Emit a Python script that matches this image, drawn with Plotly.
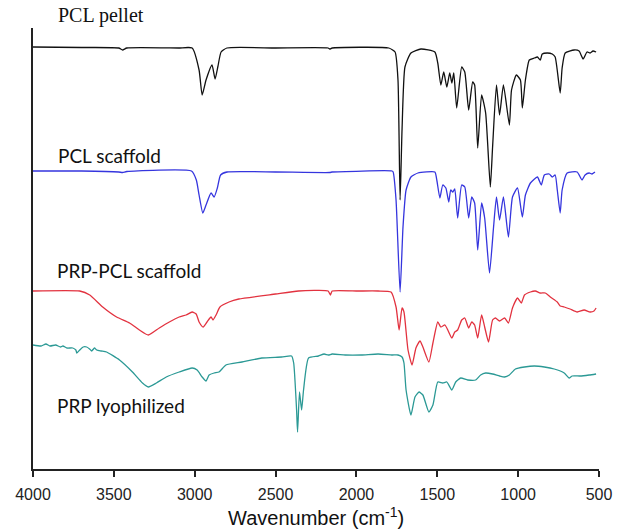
import plotly.graph_objects as go

# Wavenumber (cm-1) and offset signal (arbitrary units, larger = lower on the chart)
pcl_pellet_wn = [4000, 3700, 3470, 3446, 3420, 3100, 3016, 2973, 2954, 2930, 2893, 2874, 2856, 2837, 2801,
                 2500, 2175, 2165, 2150, 1800, 1761, 1743, 1730, 1718, 1700, 1663, 1601, 1515, 1497, 1478,
                 1460, 1441, 1423, 1410, 1398, 1380, 1349, 1330, 1306, 1281, 1269, 1250, 1226, 1201, 1172,
                 1158, 1134, 1115, 1091, 1054, 1041, 1011, 986, 974, 955, 931, 900, 881, 863, 851, 820, 789,
                 771, 740, 728, 709, 654, 623, 598, 574, 555, 537, 518]
pcl_pellet_sig = [47, 47.5, 48, 50, 48, 48, 48, 70, 95, 80, 65, 79, 66, 52, 48,
                  48, 48, 49, 48, 48, 52, 80, 200, 130, 67, 53, 49, 52, 63, 85,
                  72, 87, 73, 83, 73, 108, 67, 72, 110, 82, 85, 148, 95, 113, 187,
                  147, 85, 115, 85, 125, 90, 75, 80, 108, 80, 60, 58, 57, 60, 54, 53, 54,
                  57, 93, 68, 53, 50, 51, 59, 52, 53, 51, 52]

pcl_scaffold_wn = [4000, 3700, 3470, 3446, 3420, 3020, 2990, 2973, 2950, 2930, 2899, 2880, 2860, 2840, 2800,
                   2500, 2165, 2150, 1780, 1773, 1755, 1730, 1712, 1693, 1663, 1620, 1515, 1503, 1484, 1466,
                   1447, 1429, 1417, 1404, 1392, 1374, 1349, 1330, 1306, 1287, 1269, 1250, 1226, 1207, 1177,
                   1152, 1134, 1115, 1091, 1060, 1035, 1004, 974, 955, 924, 881, 857, 838, 808, 789, 771, 758,
                   740, 728, 697, 635, 605, 586, 561, 543, 525]
pcl_scaffold_sig = [171, 171, 172, 172.5, 171.5, 171, 180, 195, 213, 205, 193, 197, 188, 175, 172,
                    172, 172.5, 172, 171, 172, 200, 292, 227, 190, 177, 173, 172, 180, 198, 185,
                    188, 202, 190, 192, 189, 218, 185, 187, 218, 197, 203, 250, 203, 218, 273,
                    227, 197, 220, 197, 237, 197, 188, 217, 195, 183, 177, 185, 175, 174, 177, 175, 190,
                    213, 190, 173, 172, 180, 175, 173, 174, 172]

prp_pcl_wn = [4000, 3711, 3649, 3569, 3483, 3403, 3342, 3287, 3219, 3157, 3096, 3053, 3016, 2991, 2973,
              2948, 2924, 2899, 2887, 2868, 2844, 2788, 2727, 2500, 2358, 2175, 2161, 2150, 1989, 1866,
              1786, 1755, 1736, 1718, 1706, 1681, 1656, 1632, 1607, 1589, 1552, 1527, 1497, 1478, 1453,
              1435, 1410, 1392, 1374, 1349, 1330, 1306, 1287, 1269, 1250, 1226, 1207, 1183, 1158, 1140,
              1115, 1084, 1060, 1035, 1004, 980, 961, 924, 894, 863, 832, 801, 758, 740, 715, 679, 635,
              592, 555, 531, 518]
prp_pcl_sig = [291, 291, 295, 307, 317, 323, 330, 335, 328, 322, 317, 315, 312, 314, 322,
               327, 322, 317, 320, 315, 307, 302, 299, 294, 291, 291, 295, 291, 291, 291,
               292, 307, 330, 308, 312, 350, 365, 348, 341, 347, 362, 343, 322, 327, 325,
               330, 338, 332, 330, 320, 318, 328, 322, 325, 338, 315, 327, 342, 320, 318,
               321, 318, 323, 308, 298, 303, 295, 292, 291, 293, 293, 297, 302, 306, 307, 309, 312,
               310, 312, 311, 308]

prp_lyo_wn = [4000, 3950, 3920, 3895, 3860, 3830, 3815, 3790, 3754, 3735, 3729, 3711, 3690, 3668, 3650,
              3637, 3620, 3606, 3580, 3545, 3465, 3385, 3323, 3287, 3237, 3176, 3096, 3016, 2985, 2954,
              2930, 2911, 2880, 2850, 2807, 2708, 2585, 2462, 2401, 2388, 2370, 2364, 2352, 2339, 2327,
              2296, 2235, 2200, 2173, 2150, 2069, 1970, 1866, 1780, 1743, 1718, 1706, 1693, 1663, 1638,
              1613, 1589, 1552, 1527, 1497, 1466, 1441, 1410, 1386, 1355, 1312, 1263, 1232, 1201, 1158,
              1115, 1084, 1054, 1017, 961, 900, 838, 777, 715, 685, 666, 617, 561, 518]
prp_lyo_sig = [345, 346, 344, 346, 345, 347, 346, 348, 348, 350, 353, 350, 347, 347, 349,
               351, 348, 350, 351, 352, 360, 372, 383, 387, 383, 377, 372, 368, 370, 377,
               381, 375, 373, 372, 365, 362, 358, 357, 356, 363, 410, 432, 392, 410, 390,
               358, 356, 354, 355, 354, 355, 355, 354, 355, 355, 357, 363, 390, 415, 397,
               392, 395, 412, 405, 382, 383, 382, 390, 382, 378, 380, 380, 375, 373, 374,
               376, 377, 375, 369, 367, 366, 367, 369, 373, 378, 376, 376, 375, 374]

x_ticks = [4000, 3500, 3000, 2500, 2000, 1500, 1000, 500]

series = [
    ("PCL pellet", pcl_pellet_wn, pcl_pellet_sig, "#111111"),
    ("PCL scaffold", pcl_scaffold_wn, pcl_scaffold_sig, "#3535de"),
    ("PRP-PCL scaffold", prp_pcl_wn, prp_pcl_sig, "#e2323f"),
    ("PRP lyophilized", prp_lyo_wn, prp_lyo_sig, "#2b9995"),
]

fig = go.Figure()
for name, wn, sig, col in series:
    fig.add_trace(go.Scatter(x=wn, y=sig, mode="lines", name=name,
                             line=dict(color=col, width=1.3, shape="spline", smoothing=0.5)))

labels = [
    ("PCL pellet", 0.040, 1.029, "Liberation Serif", 20),
    ("PCL scaffold", 0.040, 0.712, "Lato", 19),
    ("PRP-PCL scaffold", 0.038, 0.451, "Lato", 19),
    ("PRP lyophilized", 0.038, 0.143, "Lato", 19),
]
for txt, x, y, fam, sz in labels:
    fig.add_annotation(text=txt, x=x, y=y, xref="paper", yref="paper", showarrow=False,
                       xanchor="left", yanchor="middle", font=dict(family=fam, size=sz, color="#111"))

fig.add_annotation(text="Wavenumber (cm<sup>-1</sup>)", x=0.5, y=-0.107, xref="paper", yref="paper",
                   showarrow=False, xanchor="center", yanchor="middle",
                   font=dict(family="Liberation Sans, Arial", size=20, color="#111"))

fig.update_layout(
    width=624, height=529,
    margin=dict(l=33, r=22, t=28, b=60),
    paper_bgcolor="white", plot_bgcolor="white",
    showlegend=False,
    xaxis=dict(range=[4000, 500], tickvals=x_ticks, ticktext=[str(v) for v in x_ticks],
               ticks="outside", ticklen=6, tickwidth=1.5, tickcolor="#222",
               showline=True, linecolor="#222", linewidth=1.5, showgrid=False, zeroline=False,
               tickfont=dict(family="Liberation Sans, Arial", size=16, color="#222"),
               ticklabelstandoff=4),
    yaxis=dict(range=[469, 28], showline=True, linecolor="#222", linewidth=1.5,
               showticklabels=False, ticks="", showgrid=False, zeroline=False),
)

fig.write_html("out.html", config={"displayModeBar": False},
               post_script="document.body.style.margin='0';document.body.style.overflow='hidden';")
